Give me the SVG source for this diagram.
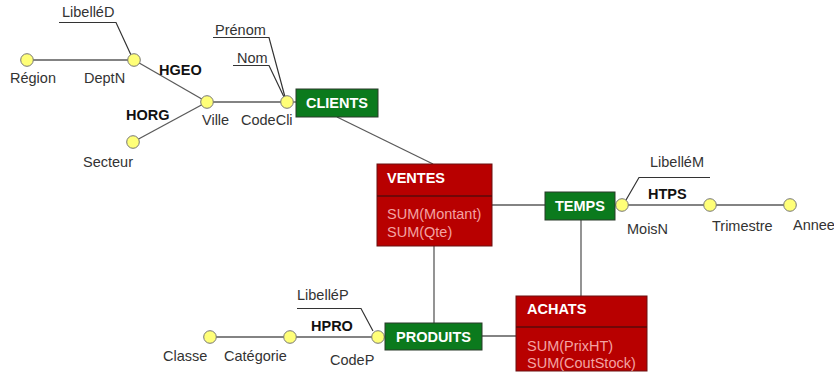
<svg xmlns="http://www.w3.org/2000/svg" width="834" height="376" viewBox="0 0 834 376">
<style>
.bg{fill:#ffffff}
.ln{stroke:#5a5a5a;stroke-width:1.3;fill:none}
.ul{stroke:#333333;stroke-width:1.2;fill:none}
.pt{fill:#ffff78;stroke:#777777;stroke-width:1}
.lbl{font-family:"Liberation Sans",Arial,sans-serif;font-size:14.5px;fill:#333333}
.hier{font-family:"Liberation Sans",Arial,sans-serif;font-size:14.5px;font-weight:bold;fill:#111111}
.dim{fill:#0b7a1d;stroke:#2a3a2a;stroke-width:1}
.fact{fill:#b80000;stroke:#6a1010;stroke-width:1}
.ttl{font-family:"Liberation Sans",Arial,sans-serif;font-size:14.5px;font-weight:bold;fill:#ffffff}
.msr{font-family:"Liberation Sans",Arial,sans-serif;font-size:14.5px;fill:#f3a3a3}
</style>
<rect class="bg" x="0" y="0" width="834" height="376"/>
<g id="connectors">
<line class="ln" x1="27" y1="60" x2="134" y2="60"/>
<line class="ln" x1="134" y1="60" x2="207" y2="102"/>
<line class="ln" x1="133" y1="142" x2="207" y2="102"/>
<line class="ln" x1="207" y1="102" x2="287" y2="102"/>
<polyline class="ul" points="59,22.5 116,22.5 131,55"/>
<polyline class="ul" points="213,37.5 269,37.5 285,97"/>
<polyline class="ul" points="233,65.5 269,65.5 284,97"/>
<line class="ln" x1="293" y1="102" x2="296" y2="102"/>
<line class="ln" x1="337" y1="117" x2="433" y2="164"/>
<line class="ln" x1="492" y1="205" x2="545" y2="205"/>
<line class="ln" x1="581" y1="220" x2="581" y2="296"/>
<line class="ln" x1="434" y1="246" x2="434" y2="323"/>
<line class="ln" x1="482" y1="336" x2="516" y2="336"/>
<line class="ln" x1="622" y1="205" x2="790" y2="205"/>
<polyline class="ul" points="710,177.5 639,177.5 626,200"/>
<line class="ln" x1="210" y1="337" x2="378" y2="337"/>
<polyline class="ul" points="297,308.5 361,308.5 373,331"/>
</g>
<g id="labels">
<text class="lbl" x="62" y="17">LibelléD</text>
<text class="lbl" x="215" y="35">Prénom</text>
<text class="lbl" x="237" y="63">Nom</text>
<text class="hier" x="159" y="75">HGEO</text>
<text class="hier" x="126" y="120">HORG</text>
<text class="lbl" x="650" y="167">LibelléM</text>
<text class="hier" x="648" y="199">HTPS</text>
<text class="lbl" x="297" y="300">LibelléP</text>
<text class="hier" x="311" y="331">HPRO</text>
</g>
<g id="region"><circle class="pt" cx="27" cy="60" r="6.3"/><text class="lbl" x="10" y="83">Région</text></g>
<g id="deptn"><circle class="pt" cx="134" cy="60" r="6.3"/><text class="lbl" x="84" y="83">DeptN</text></g>
<g id="ville"><circle class="pt" cx="207" cy="102" r="6.3"/><text class="lbl" x="202" y="125">Ville</text></g>
<g id="secteur"><circle class="pt" cx="133" cy="142" r="6.3"/><text class="lbl" x="83" y="167">Secteur</text></g>
<g id="codecli"><circle class="pt" cx="287" cy="102" r="6.3"/><text class="lbl" x="241" y="125">CodeCli</text></g>
<g id="moisn"><circle class="pt" cx="622" cy="205" r="6.3"/><text class="lbl" x="627" y="234">MoisN</text></g>
<g id="trimestre"><circle class="pt" cx="710" cy="205" r="6.3"/><text class="lbl" x="712" y="231">Trimestre</text></g>
<g id="annee"><circle class="pt" cx="790" cy="205" r="6.3"/><text class="lbl" x="793" y="230">Annee</text></g>
<g id="classe"><circle class="pt" cx="210" cy="337" r="6.3"/><text class="lbl" x="163" y="361">Classe</text></g>
<g id="categorie"><circle class="pt" cx="290" cy="337" r="6.3"/><text class="lbl" x="224" y="361">Catégorie</text></g>
<g id="codep"><circle class="pt" cx="378" cy="337" r="6.3"/><text class="lbl" x="330" y="365">CodeP</text></g>
<g id="clients"><rect class="dim" x="296" y="89" width="82" height="28"/><text class="ttl" x="306" y="108">CLIENTS</text></g>
<g id="temps"><rect class="dim" x="545" y="192" width="70" height="28"/><text class="ttl" x="555" y="211">TEMPS</text></g>
<g id="produits"><rect class="dim" x="385" y="323" width="97" height="27"/><text class="ttl" x="396" y="342">PRODUITS</text></g>
<g id="ventes"><rect class="fact" x="377" y="164" width="115" height="82"/><line class="ln" x1="377" y1="196" x2="492" y2="196" style="stroke:#5a0a0a"/><text class="ttl" x="387" y="183">VENTES</text><text class="msr" x="387" y="219">SUM(Montant)</text><text class="msr" x="387" y="237">SUM(Qte)</text></g>
<g id="achats"><rect class="fact" x="516" y="296" width="131" height="75"/><line class="ln" x1="516" y1="327" x2="647" y2="327" style="stroke:#5a0a0a"/><text class="ttl" x="527" y="314">ACHATS</text><text class="msr" x="527" y="351">SUM(PrixHT)</text><text class="msr" x="527" y="368">SUM(CoutStock)</text></g>
</svg>
